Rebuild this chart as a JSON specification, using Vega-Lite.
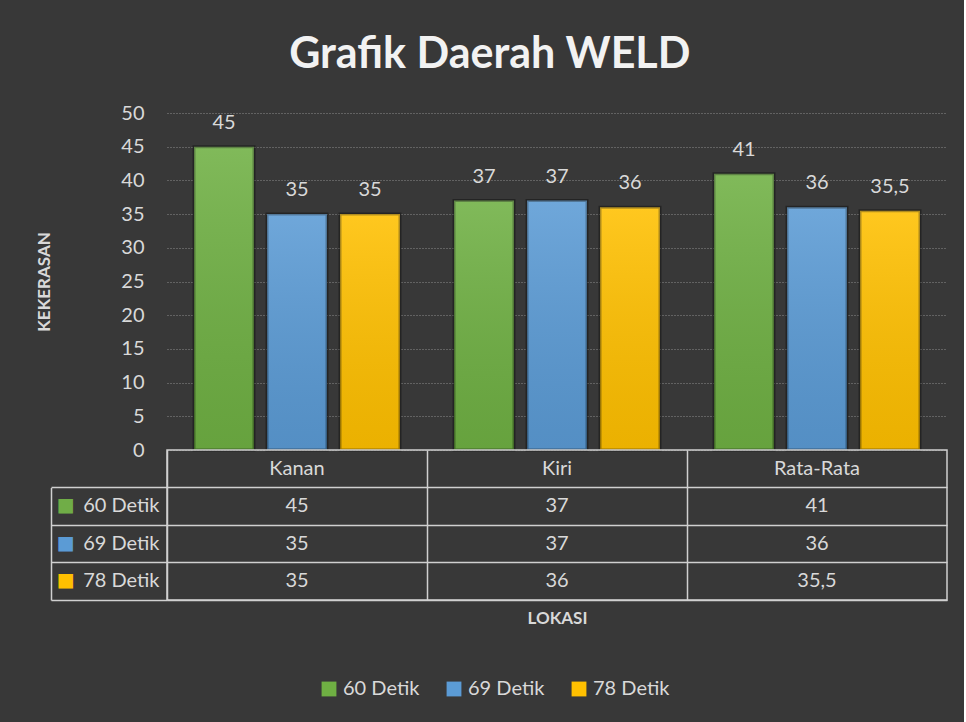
{
  "$schema": "https://vega.github.io/schema/vega-lite/v6.json",
  "background": "#383838",
  "padding": {"left": 35, "top": 34, "right": 16, "bottom": 24},
  "config": {
    "font": "Lato",
    "locale": {"number": {"decimal": ",", "thousands": ".", "grouping": [3], "currency": ["", ""]}},
    "view": {"stroke": null},
    "axis": {"labelFont": "Lato", "titleFont": "Lato"},
    "legend": {"labelFont": "Lato"}
  },
  "title": {"text": "Grafik Daerah WELD", "fontSize": 43, "fontWeight": "bold", "color": "#f2f2f2", "anchor": "middle", "dx": -2, "offset": 26},
  "datasets": {
    "nilai": [
      {"lokasi": "Kanan", "waktu": "60 Detik", "nilai": 45},
      {"lokasi": "Kanan", "waktu": "69 Detik", "nilai": 35},
      {"lokasi": "Kanan", "waktu": "78 Detik", "nilai": 35},
      {"lokasi": "Kiri", "waktu": "60 Detik", "nilai": 37},
      {"lokasi": "Kiri", "waktu": "69 Detik", "nilai": 37},
      {"lokasi": "Kiri", "waktu": "78 Detik", "nilai": 36},
      {"lokasi": "Rata-Rata", "waktu": "60 Detik", "nilai": 41},
      {"lokasi": "Rata-Rata", "waktu": "69 Detik", "nilai": 36},
      {"lokasi": "Rata-Rata", "waktu": "78 Detik", "nilai": 35.5}
    ]
  },
  "bounds": "flush",
  "spacing": 0,
  "vconcat": [
    {
      "width": 780,
      "height": 337,
      "data": {"name": "nilai"},
      "encoding": {
        "x": {"field": "lokasi", "type": "nominal", "sort": ["Kanan", "Kiri", "Rata-Rata"], "scale": {"type": "band", "paddingInner": 0, "paddingOuter": 0}, "axis": null},
        "xOffset": {"field": "waktu", "type": "nominal", "sort": ["60 Detik", "69 Detik", "78 Detik"], "scale": {"paddingInner": 0.178, "paddingOuter": 0.37}},
        "y": {
          "field": "nilai", "type": "quantitative",
          "scale": {"domain": [0, 50]},
          "axis": {
            "title": "KEKERASAN", "values": [0, 5, 10, 15, 20, 25, 30, 35, 40, 45, 50],
            "grid": true, "gridColor": "#8c8c8c", "gridDash": [1, 2], "gridWidth": 1,
            "domain": false, "ticks": false, "labelPadding": 23, "labelFontSize": 20, "labelColor": "#d9d9d9",
            "titleFontSize": 17, "titleFontWeight": "bold", "titleColor": "#d9d9d9", "titlePadding": 67
          }
        }
      },
      "layer": [
        {
          "mark": {"type": "bar", "stroke": "rgba(0,0,0,0.35)", "strokeWidth": 3},
          "encoding": {
            "color": {
              "field": "waktu", "type": "nominal",
              "scale": {"domain": ["60 Detik", "69 Detik", "78 Detik"], "range": ["#6fb043", "#5b9bd5", "#ffc000"]},
              "legend": {
                "orient": "none", "legendX": 152, "legendY": 566, "direction": "horizontal", "title": null, "symbolType": "square",
                "symbolSize": 220, "symbolStrokeWidth": 0, "labelFontSize": 20, "labelColor": "#d9d9d9",
                "columnPadding": 24, "labelOffset": 4, "symbolOpacity": 1
              }
            }
          }
        },
        {
          "mark": {"type": "bar", "fill": {"gradient": "linear", "x1": 0, "y1": 0, "x2": 0, "y2": 1, "stops": [{"offset": 0, "color": "rgba(255,255,255,0.12)"}, {"offset": 1, "color": "rgba(0,0,0,0.08)"}]}}
        },
        {
          "mark": {"type": "text", "baseline": "bottom", "dy": -14, "fontSize": 20, "color": "#d9d9d9"},
          "encoding": {"text": {"field": "nilai", "type": "quantitative", "format": ".1~f"}}
        }
      ]
    },
    {
      "width": 780,
      "height": 150,
      "view": {"stroke": "#d0d0d0", "strokeWidth": 1.5},
      "data": {"name": "nilai"},
      "resolve": {"scale": {"y": "independent"}, "axis": {"y": "independent"}},
      "encoding": {
        "x": {
          "field": "lokasi", "type": "nominal", "sort": ["Kanan", "Kiri", "Rata-Rata"],
          "scale": {"type": "band", "paddingInner": 0, "paddingOuter": 0},
          "axis": {
            "title": "LOKASI", "labels": false, "ticks": false, "domain": false, "grid": true, "bandPosition": 0,
            "gridColor": "#d0d0d0", "gridWidth": 1.5, "titleFontSize": 17, "titleFontWeight": "bold",
            "titleColor": "#d9d9d9", "titlePadding": 10
          }
        }
      },
      "layer": [
        {
          "mark": {"type": "text", "fontSize": 20, "color": "#d9d9d9"},
          "encoding": {
            "y": {
              "field": "waktu", "type": "nominal",
              "scale": {"type": "band", "domain": ["hdr", "60 Detik", "69 Detik", "78 Detik"], "paddingInner": 0, "paddingOuter": 0},
              "axis": {
                "title": null, "orient": "left", "domain": false, "ticks": true, "tickSize": 116,
                "tickColor": "#d0d0d0", "tickWidth": 1.5, "bandPosition": 1, "grid": true,
                "gridColor": "#d0d0d0", "gridWidth": 1.5,
                "labelExpr": "datum.value == 'hdr' ? '' : datum.value",
                "labelPadding": -108, "labelAlign": "right", "labelFontSize": 20, "labelColor": "#d9d9d9"
              }
            },
            "text": {"field": "nilai", "type": "quantitative", "format": ".1~f"}
          }
        },
        {
          "transform": [{"filter": "datum.waktu == '60 Detik'"}],
          "mark": {"type": "text", "fontSize": 20, "color": "#d9d9d9"},
          "encoding": {
            "y": {"datum": "hdr", "type": "nominal", "scale": {"type": "band", "domain": ["hdr", "60 Detik", "69 Detik", "78 Detik"], "paddingInner": 0, "paddingOuter": 0}, "axis": null},
            "text": {"field": "lokasi", "type": "nominal"}
          }
        },
        {
          "mark": {"type": "text", "opacity": 0},
          "encoding": {
            "y": {
              "field": "waktu", "type": "nominal",
              "scale": {"type": "band", "domain": ["hdr", "60 Detik", "69 Detik", "78 Detik"], "paddingInner": 0, "paddingOuter": 0},
              "axis": {
                "orient": "left", "offset": 116, "title": null, "domain": true, "domainColor": "#d0d0d0",
                "domainWidth": 1.5, "domainDash": [0, 37.5, 200], "ticks": false, "grid": false,
                "labelExpr": "datum.value == 'hdr' ? '' : '■'", "labelAlign": "left", "labelPadding": -5,
                "labelFontSize": 30,
                "labelColor": {"condition": [{"test": "datum.value == '60 Detik'", "value": "#70ad47"}, {"test": "datum.value == '69 Detik'", "value": "#5b9bd5"}], "value": "#ffc000"}
              }
            },
            "text": {"value": ""}
          }
        }
      ]
    }
  ]
}
